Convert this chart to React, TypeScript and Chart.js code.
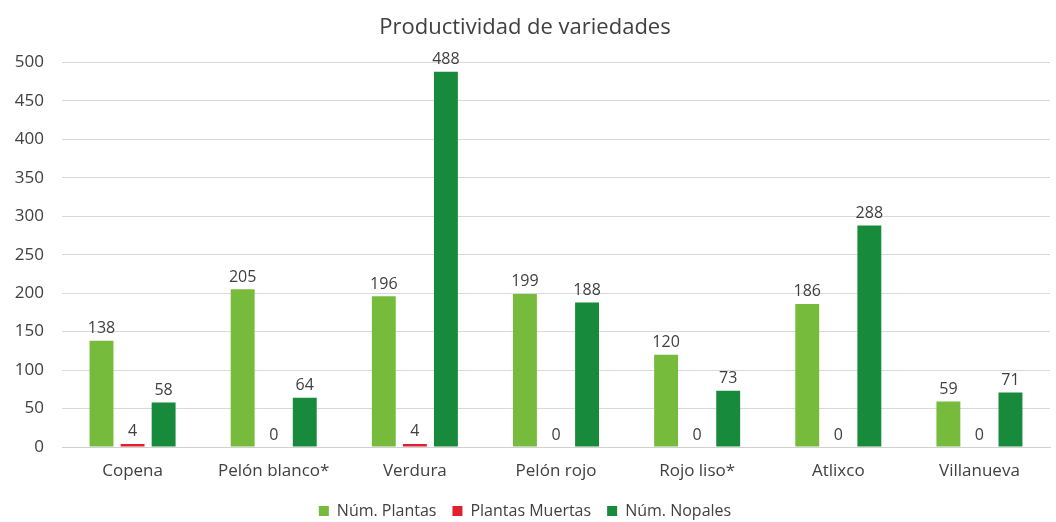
import React, { useEffect, useRef } from "react";
import { Chart, registerables } from "chart.js";

Chart.register(...registerables);

const categories = ["Copena", "Pelón blanco*", "Verdura", "Pelón rojo", "Rojo liso*", "Atlixco", "Villanueva"];
const numPlantas = [138, 205, 196, 199, 120, 186, 59];
const plantasMuertas = [4, 0, 4, 0, 0, 0, 0];
const numNopales = [58, 64, 488, 188, 73, 288, 71];

const FONT = "'Open Sans', 'Noto Sans', sans-serif";

const valueLabels = {
  id: "valueLabels",
  afterDatasetsDraw(chart: any) {
    const ctx = chart.ctx;
    ctx.save();
    ctx.font = `16px ${FONT}`;
    ctx.fillStyle = "#404040";
    ctx.textAlign = "center";
    ctx.textBaseline = "bottom";
    chart.data.datasets.forEach((ds: any, i: number) => {
      const meta = chart.getDatasetMeta(i);
      meta.data.forEach((bar: any, j: number) => {
        ctx.fillText(String(ds.data[j]), bar.x, bar.y - 4);
      });
    });
    ctx.restore();
  },
};

export default function App() {
  const ref = useRef<HTMLCanvasElement>(null);
  useEffect(() => {
    const chart = new Chart(ref.current!, {
      type: "bar",
      data: {
        labels: categories,
        datasets: [
          { label: "Núm. Plantas", data: numPlantas, backgroundColor: "#77bb3c" },
          { label: "Plantas Muertas", data: plantasMuertas, backgroundColor: "#e0202e" },
          { label: "Núm. Nopales", data: numNopales, backgroundColor: "#178a3c" },
        ],
      },
      options: {
        animation: false,
        responsive: false,
        layout: { padding: { left: 0, right: 6, top: 0, bottom: -7 } },
        datasets: { bar: { categoryPercentage: 0.66, barPercentage: 0.77 } },
        plugins: {
          title: {
            display: true,
            text: "Productividad de variedades",
            color: "#404040",
            font: { family: FONT, size: 22, weight: "normal" },
            padding: { top: 15, bottom: 21 },
          },
          legend: {
            position: "bottom",
            labels: {
              boxWidth: 10,
              boxHeight: 10,
              color: "#404040",
              font: { family: FONT, size: 16 },
              padding: 16,
            },
          },
          tooltip: { enabled: false },
        },
        scales: {
          x: {
            grid: { display: false, drawTicks: false },
            border: { color: "#d0d0d0" },
            ticks: { color: "#404040", font: { family: FONT, size: 17 }, padding: 14 },
            afterFit: (s: any) => { s.height = 40; },
          },
          y: {
            min: 0,
            max: 500,
            ticks: { stepSize: 50, color: "#404040", font: { family: FONT, size: 17 }, padding: 18 },
            grid: { color: "#d9d9d9", drawTicks: false },
            border: { display: false },
            afterFit: (s: any) => { s.width = 62; },
          },
        },
      },
      plugins: [valueLabels],
    });
    return () => chart.destroy();
  }, []);
  return (
    <div style={{ position: "fixed", left: 0, top: 0, width: 1056, height: 522, background: "#fff" }}>
      <canvas ref={ref} width={1056} height={522} />
    </div>
  );
}
